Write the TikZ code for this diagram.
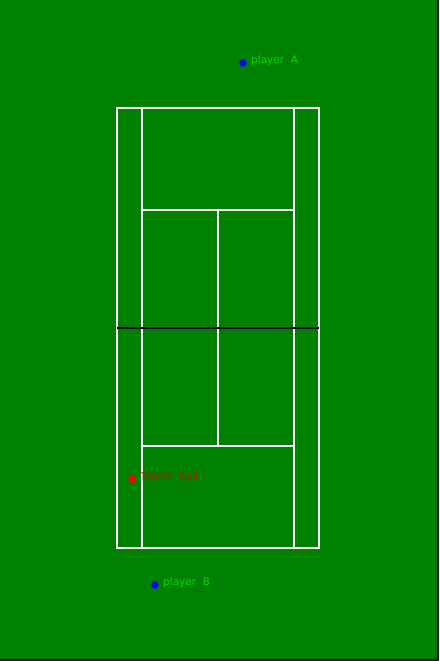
\documentclass[tikz,border=0pt]{standalone}
\usepackage{fontspec}
\setmainfont{DejaVu Sans}
\definecolor{turf}{RGB}{0,128,0}
\definecolor{lbl}{RGB}{0,220,0}
\definecolor{balllbl}{RGB}{150,40,0}
\definecolor{edge}{RGB}{30,30,30}
\tikzset{
  court/.style={draw=white, line width=1.6pt},
  netline/.style={draw=black, line width=2pt},
  dot/.style={circle, inner sep=0pt, minimum size=7.5pt},
  lab/.style={anchor=west, inner sep=0pt, font=\fontsize{10.5}{11}\selectfont}
}
\begin{document}
\begin{tikzpicture}[x=1pt,y=-1pt]
\useasboundingbox (0,0) rectangle (439,661);
\fill[turf] (0,0) rectangle (439,661);
\fill[edge] (437,0) rectangle (439,661);
\fill[edge] (0,659) rectangle (439,661);
% court
\coordinate (o1) at (117,108); \coordinate (o2) at (319,548);
\coordinate (s1) at (142,108); \coordinate (s2) at (294,548);
\coordinate (sv1) at (142,210); \coordinate (sv2) at (294,210);
\coordinate (sv3) at (142,446); \coordinate (sv4) at (294,446);
\coordinate (c1) at (218,210); \coordinate (c2) at (218,446);
\coordinate (n1) at (117,328); \coordinate (n2) at (319,328);
\draw[court] (o1) rectangle (o2);
\draw[court] (s1) rectangle (s2);
\draw[court] (sv1) -- (sv2);
\draw[court] (sv3) -- (sv4);
\draw[court] (c1) -- (c2);
\draw[netline] (n1) -- (n2);
% players and ball
\node[dot, fill=blue] (pa) at (243,63) {};
\node[lab, text=lbl] (pal) at (251,60.5) {player\ \ A};
\node[dot, fill=red] (tb) at (132,479) {};
\node[lab, text=balllbl] (tbl) at (140,476.5) {Tennis\ \ ball};
\node[dot, fill=blue] (pb) at (155,585) {};
\node[lab, text=lbl] (pbl) at (163,582.5) {player\ \ B};
\end{tikzpicture}
\end{document}
